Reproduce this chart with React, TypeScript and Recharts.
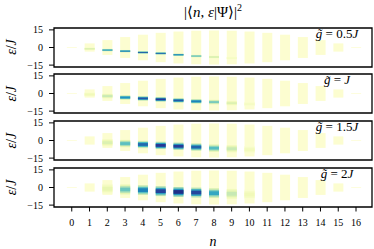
import React from 'react';
import { Bar, Cell, ComposedChart, ReferenceArea, XAxis, YAxis } from 'recharts';

const photonNumbers = [0, 1, 2, 3, 4, 5, 6, 7, 8, 9, 10, 11, 12, 13, 14, 15, 16];
const energyTicks = [-15, 0, 15];
// half extent (in ε/J) of the eigen-energy band of each n sector
const bandHalfWidth = [0.3, 3.5, 6.3, 8.9, 10.9, 12.5, 13.6, 14.3, 14.5, 14.3, 13.6, 12.5, 10.9, 8.9, 6.3, 3.5, 0.3];

// g = 0.5J
const centre05 = [null, -1.1, -2.2, -3.1, -4.2, -5.0, -6.2, -7.3, -8.1, -9.0, null, null, null, null, null, null, null];
const weight05 = [0, 0.2, 0.58, 0.68, 0.76, 0.73, 0.66, 0.45, 0.22, 0.08, 0, 0, 0, 0, 0, 0, 0];
// g = J
const centre10 = [null, -0.8, -2.2, -3.4, -4.2, -5.0, -5.9, -6.7, -7.3, -8.2, -9.0, null, null, null, null, null, null];
const weight10 = [0, 0.1, 0.25, 0.62, 0.78, 0.86, 0.76, 0.66, 0.4, 0.18, 0.07, 0, 0, 0, 0, 0, 0];
// g = 1.5J
const centre15 = [null, null, -1.8, -2.6, -3.4, -4.2, -4.9, -5.6, -6.5, -7.0, -7.8, null, null, null, null, null, null];
const weight15 = [0, 0, 0.18, 0.45, 0.72, 0.87, 0.85, 0.74, 0.46, 0.24, 0.09, 0, 0, 0, 0, 0, 0];
// g = 2J
const centre20 = [null, null, -1.1, -1.7, -2.2, -3.1, -3.8, -4.3, -4.8, -5.4, -6.0, null, null, null, null, null, null];
const weight20 = [0, 0, 0.14, 0.42, 0.66, 0.83, 0.9, 0.82, 0.55, 0.25, 0.1, 0, 0, 0, 0, 0, 0];

const couplingLabels = ['0.5', '', '1.5', '2'];
const spreads = [1.0, 1.9, 3.1, 4.2];

const PANEL_TOPS = [27.5, 74.3, 121.1, 167.9];
const PLOT_H = 39;
const PAD = 7;
const X_DOMAIN = [-1, 16.9];
const Y_DOMAIN = [-16.6, 16.6];
const BAND_COLOR = '#fcfdd0';

const ylgnbu = ['#ffffd9', '#edf8b1', '#c7e9b4', '#7fcdbb', '#41b6c4', '#1d91c0', '#225ea8', '#253494', '#081d58'];

function shade(t: number) {
  const v = Math.max(0, Math.min(1, t)) * 8;
  const i = Math.min(7, Math.floor(v));
  const f = v - i;
  const a = ylgnbu[i];
  const b = ylgnbu[i + 1];
  const ch = (s: string, k: number) => parseInt(s.slice(1 + 2 * k, 3 + 2 * k), 16);
  const mix = [0, 1, 2].map((k) => Math.round(ch(a, k) + (ch(b, k) - ch(a, k)) * f));
  return `rgb(${mix[0]},${mix[1]},${mix[2]})`;
}

const layers = [
  { key: 'outer', frac: 1, level: 0.35 },
  { key: 'mid', frac: 0.68, level: 0.68 },
  { key: 'core', frac: 0.38, level: 1 },
];

const tickStyle = { fill: '#000', fontSize: 10, fontFamily: 'Liberation Serif' };

function Panel({ index, centres, weights }: { index: number; centres: (number | null)[]; weights: number[] }) {
  const last = index === 3;
  const spread = spreads[index];
  const rows = photonNumbers.map((n, i) => {
    const c = centres[i];
    const row: any = { n, level: [-bandHalfWidth[i], bandHalfWidth[i]] };
    layers.forEach((l) => {
      row[l.key] = c === null ? null : [c - spread * l.frac, c + spread * l.frac];
    });
    return row;
  });
  const height = PAD + PLOT_H + (last ? 40 : PAD);

  return (
    <div style={{ position: 'absolute', left: 0, top: PANEL_TOPS[index] - PAD }}>
      <ComposedChart
        width={374}
        height={height}
        data={rows}
        margin={{ top: PAD, right: 2, bottom: last ? 0 : PAD, left: 0 }}
      >
        <XAxis
          xAxisId="level"
          dataKey="n"
          type="number"
          domain={X_DOMAIN}
          ticks={photonNumbers}
          interval={0}
          hide={!last}
          height={40}
          axisLine={false}
          tickSize={4.5}
          tickMargin={7}
          tickLine={{ stroke: '#000', strokeWidth: 1 }}
          tick={tickStyle}
        />
        {layers.map((l) => (
          <XAxis key={l.key} xAxisId={l.key} dataKey="n" type="number" domain={X_DOMAIN} height={0} hide />
        ))}
        <YAxis
          domain={Y_DOMAIN}
          ticks={energyTicks}
          interval={0}
          width={54}
          axisLine={false}
          tickSize={5}
          tickMargin={6}
          tickLine={{ stroke: '#000', strokeWidth: 1 }}
          tick={tickStyle}
          tickFormatter={(v: number) => (v < 0 ? `\u2212${-v}` : `${v}`)}
        />
        <Bar xAxisId="level" dataKey="level" barSize={10} fill={BAND_COLOR} isAnimationActive={false} />
        {layers.map((l) => (
          <Bar key={l.key} xAxisId={l.key} dataKey={l.key} barSize={10} isAnimationActive={false}>
            {rows.map((r, i) => (
              <Cell key={i} fill={shade(weights[i] * l.level)} />
            ))}
          </Bar>
        ))}
        <ReferenceArea
          xAxisId="level"
          x1={X_DOMAIN[0]}
          x2={X_DOMAIN[1]}
          y1={Y_DOMAIN[0]}
          y2={Y_DOMAIN[1]}
          fill="none"
          stroke="#000"
          strokeWidth={1.3}
          ifOverflow="visible"
        />
      </ComposedChart>
    </div>
  );
}

const panelData = [
  { centres: centre05, weights: weight05 },
  { centres: centre10, weights: weight10 },
  { centres: centre15, weights: weight15 },
  { centres: centre20, weights: weight20 },
];

export default function App() {
  return (
    <div
      style={{
        position: 'absolute',
        left: 0,
        top: 0,
        width: 374,
        height: 249,
        background: '#fff',
        overflow: 'hidden',
      }}
    >
      {panelData.map((p, i) => (
        <Panel key={i} index={i} centres={p.centres} weights={p.weights} />
      ))}
      <svg
        width={374}
        height={249}
        style={{ position: 'absolute', left: 0, top: 0, pointerEvents: 'none' }}
        fontFamily="Liberation Serif"
      >
        <text x={213} y={17} textAnchor="middle" fontSize={15}>
          |⟨<tspan fontStyle="italic">n</tspan>, <tspan fontStyle="italic">ε</tspan>|Ψ⟩|
          <tspan dy={-6} fontSize={10}>2</tspan>
        </text>
        {PANEL_TOPS.map((t, i) => (
          <g key={i}>
            <text
              transform={`translate(16, ${t + PLOT_H / 2}) rotate(-90)`}
              textAnchor="middle"
              fontSize={14}
            >
              <tspan fontStyle="italic">ε</tspan>/<tspan fontStyle="italic">J</tspan>
            </text>
            <text x={337} y={t + 10} textAnchor="middle" fontSize={13}>
              <tspan fontStyle="italic">g̃</tspan> = {couplingLabels[i]}
              <tspan fontStyle="italic">J</tspan>
            </text>
          </g>
        ))}
        <text x={213} y={246} textAnchor="middle" fontSize={14} fontStyle="italic">
          n
        </text>
      </svg>
    </div>
  );
}
